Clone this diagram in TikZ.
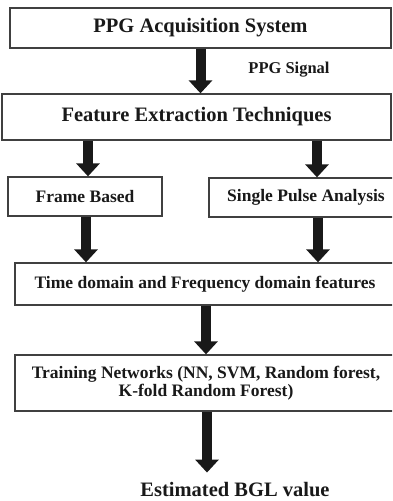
\documentclass[tikz,border=0pt]{standalone}
\usepackage{fontspec}
\setmainfont{Liberation Serif}
\usetikzlibrary{arrows.meta}
\tikzset{
  bgl box/.style={
    rectangle,
    draw=black!75,
    line width=1.3pt,
    fill=white,
    inner sep=0pt,
    font=\bfseries\fontsize{17.5}{18.5}\selectfont,
    text=black!90,
    align=center,
  },
  bgl title/.style={
    bgl box,
    font=\bfseries\fontsize{20.5}{22}\selectfont,
  },
  bgl label/.style={
    inner sep=0pt,
    text=black!90,
    font=\bfseries\fontsize{16.5}{18}\selectfont,
  },
  bgl arrow/.style={-{Triangle[length=13pt,width=23pt]}, line width=10pt, draw=black!90},
}

\begin{document}
\begin{tikzpicture}[x=1pt,y=-1pt]
  \useasboundingbox (0,0) rectangle (392,501);
  \clip (0,0) rectangle (392,501);

  \node[bgl title,minimum width=381pt,minimum height=40pt] (acq) at (200.5,28) {PPG Acquisition System};
  \node[bgl label] (sig) at (289,70) {PPG Signal};
  \node[bgl title,minimum width=389pt,minimum height=46pt] (fet) at (196.5,117) {Feature Extraction Techniques};
  \node[bgl box,minimum width=154pt,minimum height=39pt] (frame) at (85,196.5) {Frame Based};
  \node[bgl box,minimum width=194pt,minimum height=39pt] (pulse) at (306,197.5) {Single Pulse Analysis};
  \node[bgl box,minimum width=380pt,minimum height=42pt] (feat) at (205,284) {Time domain and Frequency domain features};
  \node[bgl box,minimum width=382pt,minimum height=56pt] (train) at (206,383)
    {Training Networks (NN, SVM, Random forest,\\K-fold Random Forest)};
  \node[bgl label,font=\bfseries\fontsize{20.5}{22}\selectfont] (bgl) at (235,490) {Estimated BGL value};

  \draw[bgl arrow] (acq.south) -- (acq.south |- fet.north);
  \draw[bgl arrow] ([xshift=3pt]frame.north |- fet.south) -- ([xshift=3pt]frame.north);
  \draw[bgl arrow] ([xshift=11pt]pulse.north |- fet.south) -- ([xshift=11pt]pulse.north);
  \draw[bgl arrow] ([xshift=1pt]frame.south) -- ([xshift=1pt]frame.south |- feat.north);
  \draw[bgl arrow] ([xshift=12pt]pulse.south) -- ([xshift=12pt]pulse.south |- feat.north);
  \draw[bgl arrow] ([xshift=1pt]feat.south) -- ([xshift=1pt]feat.south |- train.north);
  \draw[bgl arrow,shorten >=10pt] ([xshift=1pt]train.south) -- ([xshift=1pt]train.south |- bgl.north);
\end{tikzpicture}
\end{document}
